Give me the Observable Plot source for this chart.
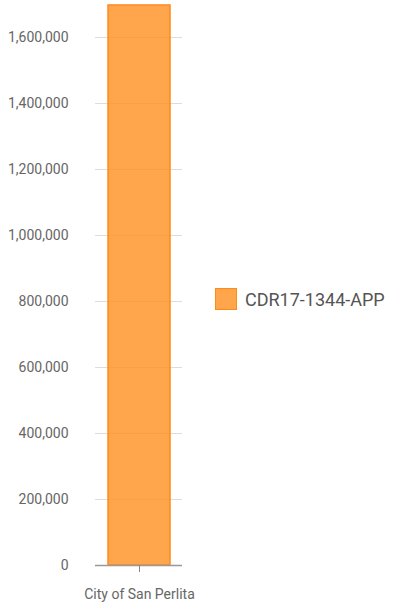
<!DOCTYPE html>
<html><head><meta charset="utf-8">
<script src="https://cdn.jsdelivr.net/npm/d3@7"></script>
<script src="https://cdn.jsdelivr.net/npm/@observablehq/plot@0.6"></script>
<style>
body{margin:0;background:#fff;font-family:Roboto,sans-serif;}
#wrap{position:relative;width:393px;height:605px;}
#legend{position:absolute;left:215px;top:288px;display:flex;align-items:center;font-family:Roboto,sans-serif;font-size:18px;color:#555;}
#legend .sw{width:22px;height:22px;background:rgba(255,140,26,0.78);border:1.5px solid #ff8a1c;margin-right:8px;box-sizing:border-box;}
</style></head>
<body><div id="wrap"><div id="legend"></div></div>
<script>
const categories = ["City of San Perlita"];
const seriesName = "CDR17-1344-APP";
const values = [1697000];
const yTicks = [0, 200000, 400000, 600000, 800000, 1000000, 1200000, 1400000, 1600000];

const data = categories.map((c, i) => ({category: c, value: values[i]}));
const fmt = d3.format(",");

const chart = Plot.plot({
  width: 393, height: 605,
  marginLeft: 95, marginRight: 211, marginTop: 4, marginBottom: 40,
  style: {fontFamily: "Roboto, sans-serif", fontSize: "14px", color: "#666", background: "transparent"},
  x: {domain: categories, padding: 0.168, label: null},
  y: {domain: [0, 1700000], label: null},
  marks: [
    Plot.gridY(yTicks, {stroke: "#ddd", strokeOpacity: 1}),
    Plot.barY(data, {x: "category", y: "value", fill: "#ff8c1a", fillOpacity: 0.78, stroke: "#ff8a1c", strokeWidth: 1.5}),
    Plot.ruleY([0], {stroke: "#999", strokeWidth: 1.5}),
    Plot.axisY(yTicks, {tickSize: 0, tickPadding: 27, tickFormat: fmt, fill: "#666", fontSize: 14}),
    Plot.axisX({tickSize: 7, tickPadding: 17, stroke: "#888", fill: "#666", fontSize: 14})
  ]
});
const wrap = document.getElementById("wrap");
wrap.insertBefore(chart, wrap.firstChild);
document.getElementById("legend").innerHTML = `<div class="sw"></div><span>${seriesName}</span>`;
</script></body></html>
